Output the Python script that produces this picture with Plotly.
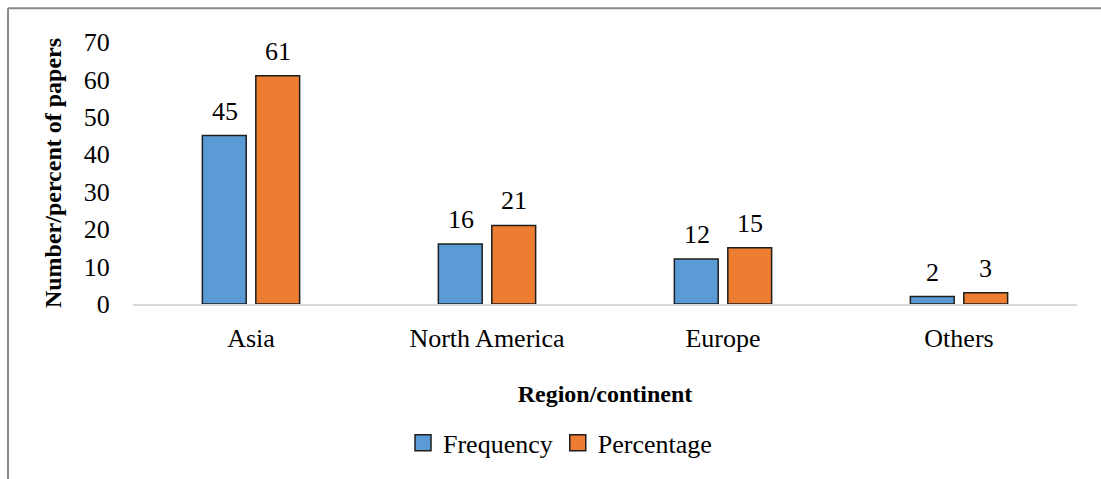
import plotly.graph_objects as go

# Papers by region/continent
regions = ["Asia", "North America", "Europe", "Others"]
frequency = [45, 16, 12, 2]
percentage = [61, 21, 15, 3]

series_names = ["Frequency", "Percentage"]
y_ticks = [0, 10, 20, 30, 40, 50, 60, 70]

BLUE = "#5B9BD5"
ORANGE = "#ED7D31"
OUTLINE = "#1e1e1e"
FONT = "Liberation Serif, Times New Roman, serif"

W, H = 1101, 479
ML, MR, MT, MB = 133, 24, 42, 173
PW, PH = W - ML - MR, H - MT - MB


def px_x(px):
    return (px - ML) / PW


def px_y(py):
    return (H - MB - py) / PH


fig = go.Figure()

for name, vals, color in [(series_names[0], frequency, BLUE),
                          (series_names[1], percentage, ORANGE)]:
    fig.add_trace(go.Bar(
        x=regions, y=vals, name=name,
        marker=dict(color=color, line=dict(color=OUTLINE, width=1.5)),
        showlegend=False,
    ))
    # legend entry with a larger square swatch
    fig.add_trace(go.Scatter(
        x=[None], y=[None], mode="markers", name=name,
        marker=dict(symbol="square", size=16, color=color,
                    line=dict(color=OUTLINE, width=1.5)),
    ))

# value labels above each bar
slot_shift = 26.5
for vals, shift in [(frequency, -slot_shift), (percentage, slot_shift)]:
    for cat, v in zip(regions, vals):
        fig.add_annotation(
            x=cat, y=v, text=str(v), showarrow=False,
            xshift=shift, yanchor="bottom", yshift=8,
            font=dict(family=FONT, size=26, color="#000"),
        )

# frame lines along the top and left of the figure
fig.add_shape(type="line", xref="paper", yref="paper",
              x0=px_x(8), x1=px_x(W + 20), y0=px_y(8), y1=px_y(8),
              line=dict(color="#8a8a8a", width=2))
fig.add_shape(type="line", xref="paper", yref="paper",
              x0=px_x(8), x1=px_x(8), y0=px_y(8), y1=px_y(H + 20),
              line=dict(color="#8a8a8a", width=2))

fig.update_layout(
    width=W, height=H,
    margin=dict(l=ML, r=MR, t=MT, b=MB, pad=0),
    paper_bgcolor="white", plot_bgcolor="white",
    font=dict(family=FONT, size=26, color="#000"),
    barmode="group", bargap=0.547, bargroupgap=0.18,
    legend=dict(orientation="h", x=px_x(560), xanchor="center",
                y=px_y(446), yanchor="middle",
                font=dict(family=FONT, size=26),
                itemwidth=30, tracegroupgap=0),
    xaxis=dict(
        showline=True, linecolor="#d9d9d9", linewidth=1.5,
        ticks="outside", ticklen=10, tickcolor="rgba(0,0,0,0)",
        tickfont=dict(family=FONT, size=26),
        title=dict(text="<b>Region/continent</b>", standoff=33,
                   font=dict(family=FONT, size=24)),
        showgrid=False, zeroline=False,
    ),
    yaxis=dict(
        range=[0, 70], tickvals=y_ticks,
        showline=False, showgrid=False, zeroline=False,
        ticks="outside", ticklen=17, tickcolor="rgba(0,0,0,0)",
        tickfont=dict(family=FONT, size=26),
        title=dict(text="<b>Number/percent of papers</b>", standoff=15,
                   font=dict(family=FONT, size=24)),
    ),
)

fig.write_html("out.html")
